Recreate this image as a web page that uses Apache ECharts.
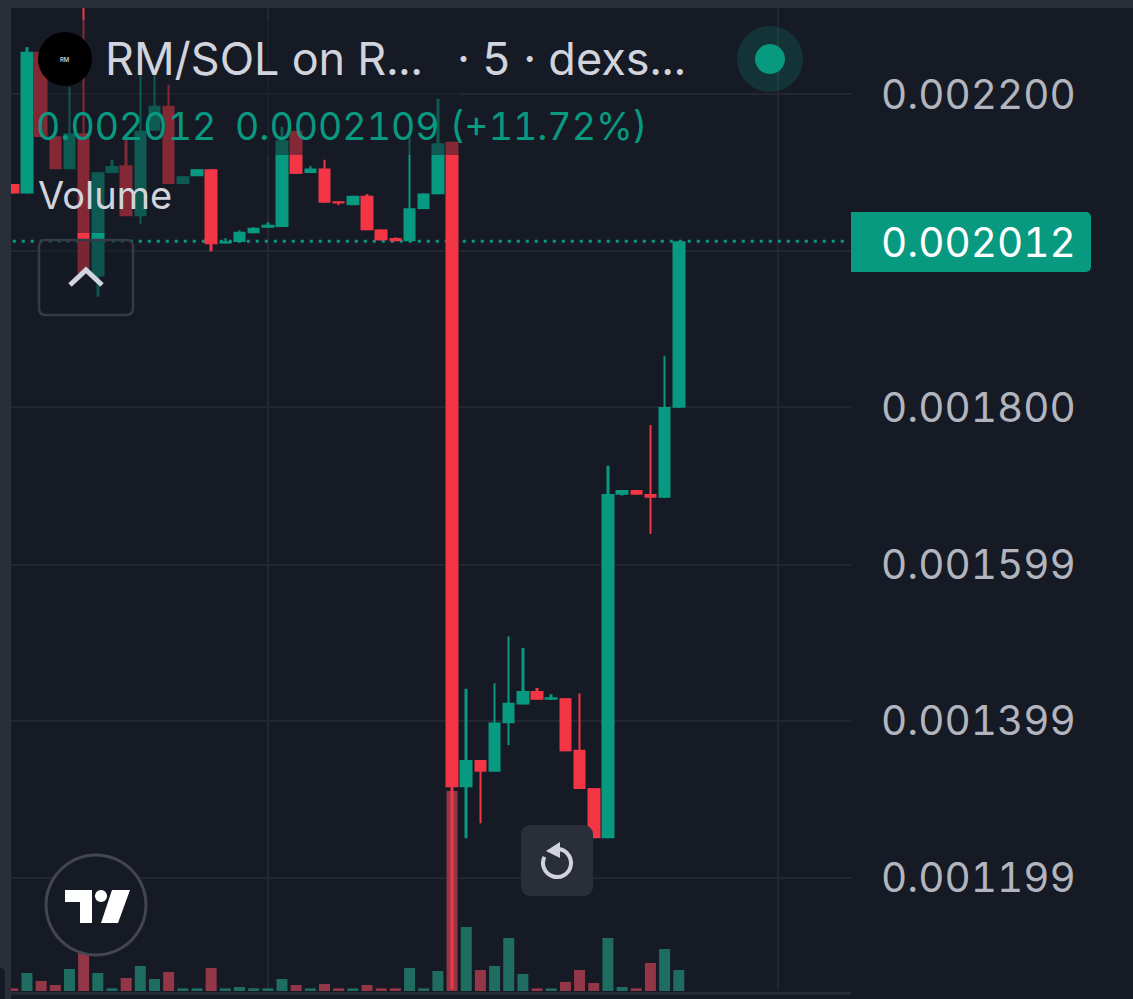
<!DOCTYPE html>
<html><head><meta charset="utf-8">
<style>html,body{margin:0;padding:0;background:#161a25}#c{width:1133px;height:999px}
#c text{font-feature-settings:"tnum" 1 !important;font-variant-numeric:tabular-nums !important}</style>
<script src="https://cdn.jsdelivr.net/npm/echarts@6/dist/echarts.min.js"></script>
</head><body><div id="c"></div>
<script>
const opens = [0.002085,0.002073,0.002254,0.002146,0.002104,0.002150,0.001967,0.002099,0.002109,0.002044,0.002153,0.002185,0.002085,0.002095,0.002104,0.002009,0.002011,0.002022,0.002029,0.002030,0.002153,0.002099,0.002105,0.002063,0.002058,0.002070,0.002027,0.002016,0.002012,0.002053,0.002072,0.002139,0.001314,0.001349,0.001334,0.001396,0.001420,0.001437,0.001426,0.001428,0.001362,0.001313,0.001249,0.001688,0.001694,0.001689,0.001684,0.001799];
const closes = [0.002073,0.002254,0.002145,0.002104,0.002150,0.001971,0.002100,0.002108,0.002044,0.002153,0.002185,0.002085,0.002095,0.002104,0.002008,0.002012,0.002024,0.002029,0.002033,0.002141,0.002098,0.002105,0.002061,0.002060,0.002070,0.002026,0.002013,0.002012,0.002054,0.002073,0.002137,0.001314,0.001349,0.001334,0.001397,0.001422,0.001437,0.001426,0.001429,0.001360,0.001312,0.001249,0.001689,0.001694,0.001688,0.001684,0.001800,0.002012];
const highs = [0.002085,0.002260,0.002254,0.002146,0.002209,0.002310,0.002100,0.002116,0.002141,0.002224,0.002224,0.002212,0.002095,0.002104,0.002104,0.002016,0.002026,0.002030,0.002036,0.002158,0.002153,0.002108,0.002116,0.002063,0.002070,0.002072,0.002027,0.002017,0.002145,0.002073,0.002194,0.002139,0.001440,0.001349,0.001447,0.001507,0.001492,0.001441,0.001433,0.001428,0.001434,0.001313,0.001725,0.001694,0.001694,0.001777,0.001865,0.002012];
const lows = [0.002073,0.002073,0.002145,0.002104,0.002104,0.001971,0.001941,0.002099,0.002044,0.002034,0.002153,0.002085,0.002085,0.002095,0.001999,0.002009,0.002011,0.002022,0.002029,0.002030,0.002098,0.002099,0.002061,0.002058,0.002058,0.002026,0.002013,0.002012,0.002012,0.002053,0.002072,0.001056,0.001249,0.001268,0.001334,0.001368,0.001420,0.001426,0.001426,0.001360,0.001312,0.001249,0.001249,0.001687,0.001688,0.001638,0.001684,0.001799];
const volumes = [2.7,18,10,6,22,38,18,2.7,13,25,12,19,2.7,2.7,23,2.7,4,2.7,2.7,12,6,2.7,7,2.7,2.7,6,2.7,2.7,23,2.7,20,200,64,21,25,53,17,2.7,2.7,9,21,8,53,4,2.7,28,42,21];
const gridTicks = [0.001199,0.001399,0.001599,0.0018,0.002,0.0022];
const labelTicks = [0.001199,0.001399,0.001599,0.0018,0.0022];
const lastPrice = 0.002012;
const verticalGridAt = [18,54];
const emptySlots = 12;

const UP='#089981', DOWN='#f23645', BG='#161a25', FRAME='#2a2e39', GRID='#23272f', TXT='#d1d4dc';
const VOL_UP='rgb(31,108,96)', VOL_DOWN='rgb(146,54,72)';
const FONT='Inter';
const cats = Array.from({length: opens.length+emptySlots},(_,i)=>String(i));
const candleData = opens.map((o,i)=>[o,closes[i],lows[i],highs[i]]);
const wickData = opens.map((o,i)=> closes[i]>=o ? [lows[i],highs[i],lows[i],highs[i]] : [highs[i],lows[i],lows[i],highs[i]]);
const volData = volumes.map((v,i)=>({value:v,itemStyle:{color:closes[i]>=opens[i]?VOL_UP:VOL_DOWN}}));
const candleStyle={color:UP,color0:DOWN,borderColor:UP,borderColor0:DOWN,borderWidth:0};
const Z=100;
const txt=(x,y,text,size,fill,extra)=>({type:'text',z:Z+2,x,y,style:Object.assign({text,font:`${size}px ${FONT}`,fill,textVerticalAlign:'middle',verticalAlign:'middle'},extra||{})});
const GL=5.7, GW=850.2;

const chart=echarts.init(document.getElementById('c'),null,{renderer:'svg',width:1133,height:999});
chart.setOption({
 animation:false,
 backgroundColor:BG,
 grid:[
  {left:GL,top:8,width:GW,height:982},
  {left:GL,top:791,width:GW,height:200},
  {left:11,top:8,width:840,height:982}
 ],
 xAxis:[
  {type:'category',gridIndex:0,data:cats,boundaryGap:true,axisLine:{show:false},axisTick:{show:false,alignWithLabel:true},axisLabel:{show:false},
   splitLine:{show:true,alignWithLabel:true,interval:(i)=>verticalGridAt.includes(i),lineStyle:{color:GRID,width:2}}},
  {type:'category',gridIndex:1,data:cats,axisLine:{show:false},axisTick:{show:false},axisLabel:{show:false},splitLine:{show:false}},
  {type:'category',gridIndex:2,data:[''],axisLine:{show:false},axisTick:{show:false},axisLabel:{show:false},splitLine:{show:false}}
 ],
 yAxis:[
  {type:'value',gridIndex:0,min:0.001055,max:0.00231,axisLine:{show:false},axisTick:{show:false},axisLabel:{show:false},splitLine:{show:false}},
  {type:'value',gridIndex:1,min:0,max:200,axisLine:{show:false},axisTick:{show:false},axisLabel:{show:false},splitLine:{show:false}},
  {type:'value',gridIndex:2,position:'right',min:0.001055,max:0.00231,axisLine:{show:false},
   axisTick:{show:false,customValues:gridTicks},
   axisLabel:{show:true,customValues:labelTicks,margin:30,padding:[10,0,0,0],color:'#b2b5be',fontFamily:FONT,fontSize:40.5,formatter:v=>Number(v).toFixed(6)},
   splitLine:{show:true,lineStyle:{color:GRID,width:2}}}
 ],
 series:[
  {type:'bar',name:'Volume',xAxisIndex:1,yAxisIndex:1,data:volData,barWidth:11,silent:true,z:1},
  {type:'line',name:'Last price',xAxisIndex:0,yAxisIndex:0,data:cats.map(()=>lastPrice),showSymbol:false,symbol:'none',silent:true,z:2,
   lineStyle:{color:UP,type:[3,6],width:3}},
  {type:'candlestick',name:'Wick',xAxisIndex:0,yAxisIndex:0,data:wickData,barWidth:3,itemStyle:candleStyle,silent:true,z:3,clip:false},
  {type:'candlestick',name:'RM/SOL',xAxisIndex:0,yAxisIndex:0,data:candleData,barWidth:13,itemStyle:candleStyle,silent:true,z:4,clip:false}
 ],
 graphic:{elements:[
  // frame
  {type:'rect',z:Z,shape:{x:0,y:0,width:1133,height:8},style:{fill:FRAME}},
  {type:'rect',z:Z,shape:{x:0,y:0,width:11,height:999},style:{fill:FRAME}},
  {type:'rect',z:Z,shape:{x:0,y:968,width:5,height:31,r:[0,5,0,0]},style:{fill:BG}},
  {type:'rect',z:Z,shape:{x:11,y:992,width:840,height:2.5},style:{fill:'#282c35'}},
  // legend translucency
  {type:'rect',z:Z,shape:{x:35,y:20,width:425,height:135},style:{fill:'rgba(22,26,37,.5)'}},
  {type:'rect',z:Z,shape:{x:35,y:155,width:155,height:78},style:{fill:'rgba(22,26,37,.5)'}},
  {type:'rect',z:Z,shape:{x:39,y:240,width:94,height:75,r:6},style:{fill:'rgba(22,26,37,.55)',stroke:'#363a45',lineWidth:2.5}},
  {type:'polyline',z:Z+1,shape:{points:[[70,285],[86,270],[102,285]]},style:{fill:'none',stroke:TXT,lineWidth:5}},
  // legend
  {type:'circle',z:Z+1,shape:{cx:65,cy:59,r:27},style:{fill:'#000'}},
  txt(60,59,'RM',6,'#fff'),
  txt(105,58,'RM/SOL on R...',45,TXT),
  txt(457,58,'· 5 · dexs...',45,TXT),
  txt(36,126,'0.002012',37.5,UP),
  txt(235,126,'0.0002109 (+11.72%)',37.5,UP),
  txt(38,195,'Volume',38,TXT),
  // status dot
  {type:'circle',z:Z+1,shape:{cx:770,cy:59,r:33},style:{fill:'rgba(8,153,129,.2)'}},
  {type:'circle',z:Z+1,shape:{cx:770,cy:59,r:15},style:{fill:UP}},
  // price badge
  {type:'rect',z:Z+1,shape:{x:851,y:212,width:240,height:60,r:[0,5,5,0]},style:{fill:UP}},
  txt(881,242,'0.002012',40.5,'#fff'),
  // reset button
  {type:'rect',z:Z+1,shape:{x:521,y:825,width:72,height:71,r:9},style:{fill:FRAME}},
  {type:'arc',z:Z+2,shape:{cx:557,cy:863,r:14,startAngle:-1.5,endAngle:3.6},style:{fill:'none',stroke:TXT,lineWidth:4}},
  {type:'polygon',z:Z+2,shape:{points:[[546,851],[560,842],[560,858]]},style:{fill:TXT}},
  // logo
  {type:'circle',z:Z+1,shape:{cx:96,cy:905,r:50},style:{fill:BG,stroke:'#434651',lineWidth:3}},
  {type:'polygon',z:Z+2,shape:{points:[[65,890],[92,890],[92,923],[80,923],[80,902],[65,902]]},style:{fill:'#fff'}},
  {type:'circle',z:Z+2,shape:{cx:101,cy:896,r:6},style:{fill:'#fff'}},
  {type:'polygon',z:Z+2,shape:{points:[[112,890],[130,890],[118,923],[101,923]]},style:{fill:'#fff'}}
 ]}
});
</script></body></html>
